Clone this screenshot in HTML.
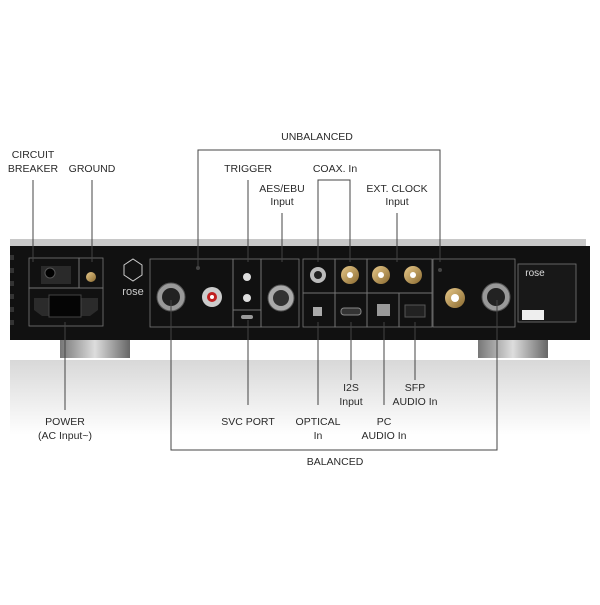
<!DOCTYPE html>
<html><head><meta charset="utf-8"><style>
html,body{margin:0;padding:0;background:#fff;}
svg text{font-family:"Liberation Sans",sans-serif;font-size:10.5px;fill:#2a2a2a;text-anchor:middle;}
</style></head><body>
<svg width="600" height="600" viewBox="0 0 600 600" xmlns="http://www.w3.org/2000/svg">
<defs>
<linearGradient id="refl" x1="0" y1="0" x2="0" y2="1">
<stop offset="0" stop-color="#d8d8d8"/><stop offset="1" stop-color="#ffffff"/>
</linearGradient>
<linearGradient id="foot" x1="0" y1="0" x2="1" y2="0">
<stop offset="0" stop-color="#777"/><stop offset="0.5" stop-color="#ddd"/><stop offset="1" stop-color="#666"/>
</linearGradient>
<linearGradient id="gold" x1="0" y1="0" x2="1" y2="1">
<stop offset="0" stop-color="#e8c98a"/><stop offset="1" stop-color="#8a6a30"/>
</linearGradient>
</defs>
<!-- reflection -->
<rect x="10" y="360" width="580" height="75" fill="url(#refl)"/>
<!-- feet -->
<rect x="60" y="338" width="70" height="20" fill="url(#foot)"/>
<rect x="478" y="338" width="70" height="20" fill="url(#foot)"/>
<!-- body -->
<rect x="10" y="239" width="576" height="8" fill="#c8c8c8"/>
<rect x="10" y="246" width="580" height="94" fill="#111"/>
<g fill="#333">
<rect x="10" y="255" width="4" height="5"/><rect x="10" y="268" width="4" height="5"/><rect x="10" y="281" width="4" height="5"/><rect x="10" y="294" width="4" height="5"/><rect x="10" y="307" width="4" height="5"/><rect x="10" y="320" width="4" height="5"/>
</g>
<!-- panels -->
<g fill="none" stroke="#777" stroke-width="0.8">
<rect x="29" y="258" width="50" height="30"/>
<rect x="79" y="258" width="24" height="30"/>
<rect x="29" y="288" width="74" height="38"/>
<rect x="150" y="259" width="83" height="68"/>
<rect x="233" y="259" width="28" height="51"/>
<rect x="233" y="310" width="28" height="17"/>
<rect x="261" y="259" width="38" height="68"/>
<rect x="303" y="259" width="32" height="34"/>
<rect x="335" y="259" width="32" height="34"/>
<rect x="367" y="259" width="65" height="34"/>
<rect x="303" y="293" width="32" height="34"/>
<rect x="335" y="293" width="32" height="34"/>
<rect x="367" y="293" width="32" height="34"/>
<rect x="399" y="293" width="33" height="34"/>
<rect x="433" y="259" width="82" height="68"/>
<rect x="518" y="264" width="58" height="58" fill="#181818"/>
</g>
<!-- connectors -->
<rect x="41" y="266" width="30" height="18" fill="#2a2a2a"/><circle cx="50" cy="273" r="5" fill="#000" stroke="#555"/>
<circle cx="91" cy="277" r="5" fill="url(#gold)"/>
<path d="M34 298 h64 v12 l-8 6 h-48 l-8 -6z" fill="#2b2b2b"/><rect x="49" y="295" width="32" height="22" fill="#050505" stroke="#444"/>
<path d="M124 265 l9 -6 9 6 v10 l-9 6 -9 -6z" fill="none" stroke="#ccc" stroke-width="1"/>
<text x="133" y="295" style="font-size:11px;fill:#ccc">rose</text>
<circle cx="171" cy="297" r="14" fill="#999" stroke="#555"/><circle cx="171" cy="297" r="9" fill="#222"/>
<circle cx="212" cy="297" r="10" fill="#ccc"/><circle cx="212" cy="297" r="5" fill="#c02020"/><circle cx="212" cy="297" r="2" fill="#fff"/>
<circle cx="247" cy="277" r="4" fill="#ddd"/><circle cx="247" cy="298" r="4" fill="#ddd"/>
<rect x="241" y="315" width="12" height="4" rx="2" fill="#999"/>
<circle cx="281" cy="298" r="13" fill="#aaa" stroke="#555"/><circle cx="281" cy="298" r="8" fill="#333"/>
<circle cx="318" cy="275" r="8" fill="#bbb"/><circle cx="318" cy="275" r="4" fill="#222"/>
<circle cx="350" cy="275" r="9" fill="url(#gold)"/><circle cx="350" cy="275" r="3" fill="#fff"/>
<circle cx="381" cy="275" r="9" fill="url(#gold)"/><circle cx="381" cy="275" r="3" fill="#fff"/>
<circle cx="413" cy="275" r="9" fill="url(#gold)"/><circle cx="413" cy="275" r="3" fill="#fff"/>
<rect x="313" y="307" width="9" height="9" fill="#aaa"/>
<rect x="341" y="308" width="20" height="7" rx="3" fill="#333" stroke="#888"/>
<rect x="377" y="304" width="13" height="12" fill="#999"/>
<rect x="405" y="305" width="20" height="12" fill="#222" stroke="#555"/>
<circle cx="455" cy="298" r="10" fill="url(#gold)"/><circle cx="455" cy="298" r="4" fill="#fff"/>
<circle cx="496" cy="297" r="14" fill="#999" stroke="#555"/><circle cx="496" cy="297" r="9" fill="#222"/>
<text x="535" y="276" style="font-size:10px;fill:#ddd">rose</text>
<rect x="522" y="310" width="22" height="10" fill="#eee"/>
<!-- connector lines -->
<g fill="none" stroke="#444" stroke-width="1">
<path d="M33 180 V262"/>
<path d="M92 180 V262"/>
<path d="M198 268 V150 H440 V262"/>
<path d="M248 180 V262"/>
<path d="M282 213 V262"/>
<path d="M318 262 V180 H350 V262"/>
<path d="M397 213 V262"/>
<path d="M65 322 V410"/>
<path d="M171 300 V450 H497 V300"/>
<path d="M248 320 V405"/>
<path d="M318 322 V405"/>
<path d="M351 322 V380"/>
<path d="M384 322 V405"/>
<path d="M415 322 V380"/>
</g>
<circle cx="198" cy="268" r="2" fill="#444"/><circle cx="440" cy="270" r="2" fill="#444"/>
<!-- labels -->
<text x="317" y="140">UNBALANCED</text>
<text x="33" y="158">CIRCUIT</text><text x="33" y="172">BREAKER</text>
<text x="92" y="172">GROUND</text>
<text x="248" y="172">TRIGGER</text>
<text x="335" y="172">COAX. In</text>
<text x="282" y="192">AES/EBU</text><text x="282" y="205">Input</text>
<text x="397" y="192">EXT. CLOCK</text><text x="397" y="205">Input</text>
<text x="351" y="391">I2S</text><text x="351" y="405">Input</text>
<text x="415" y="391">SFP</text><text x="415" y="405">AUDIO In</text>
<text x="65" y="425">POWER</text><text x="65" y="439">(AC Input~)</text>
<text x="248" y="425">SVC PORT</text>
<text x="318" y="425">OPTICAL</text><text x="318" y="439">In</text>
<text x="384" y="425">PC</text><text x="384" y="439">AUDIO In</text>
<text x="335" y="465">BALANCED</text>
</svg>
</body></html>
